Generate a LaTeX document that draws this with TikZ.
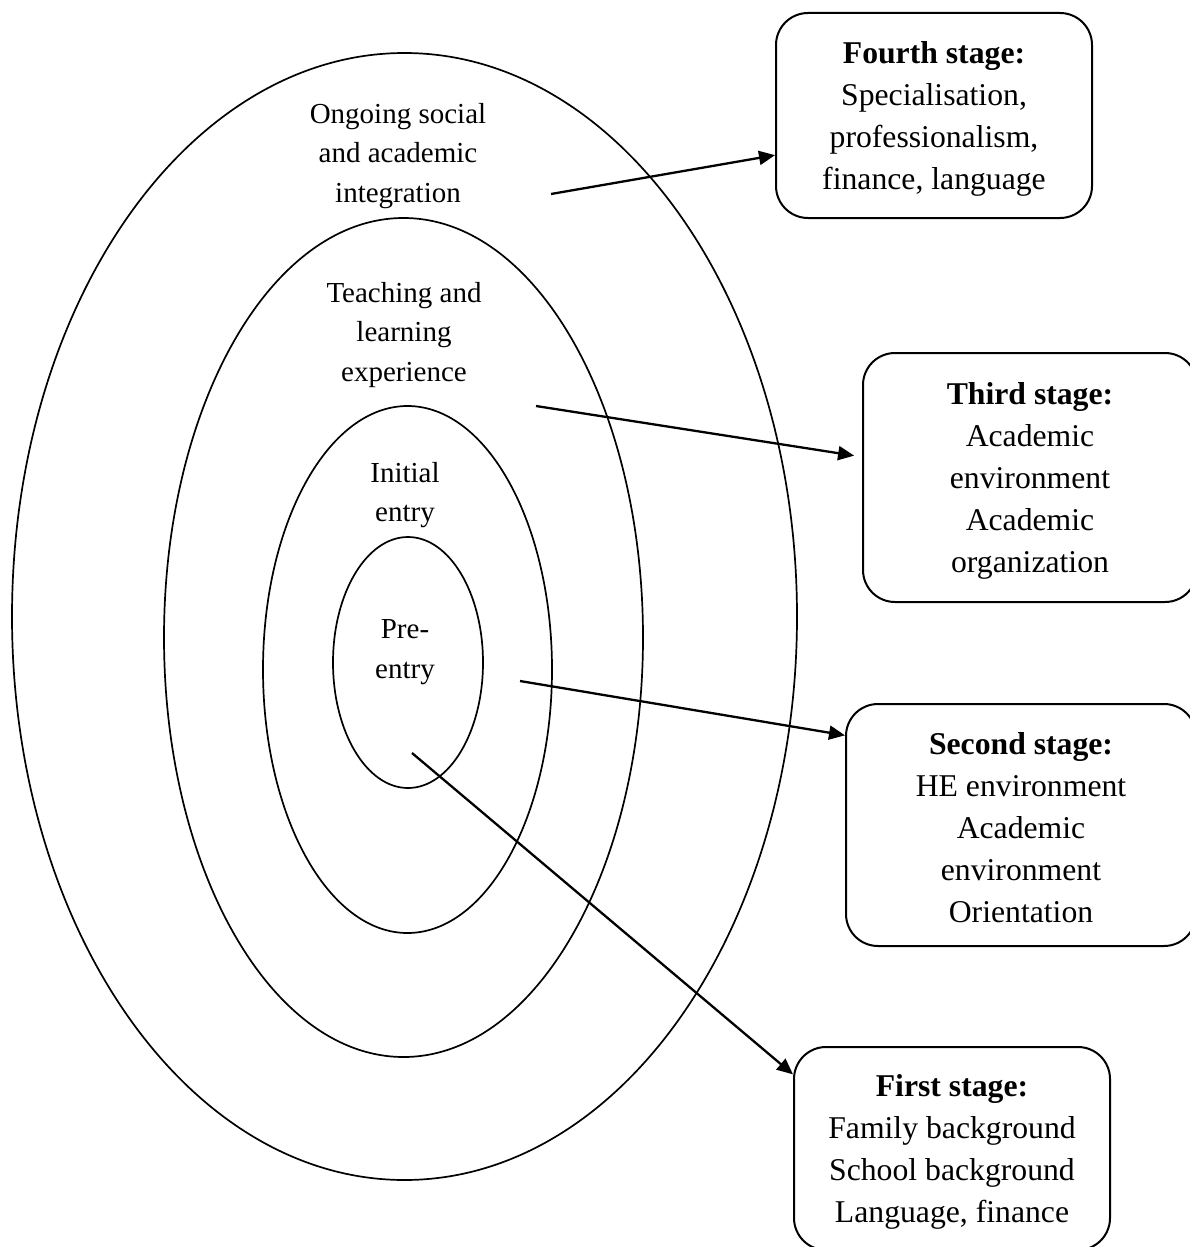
\documentclass[tikz,border=0pt]{standalone}
\usepackage{fontspec}
\setmainfont{Liberation Serif}
\usetikzlibrary{shapes.geometric,arrows.meta}

% invisible strut that lowers the text block a little inside its box
\newcommand{\boxtopgap}{\rule{0pt}{28pt}}

\tikzset{
  ring/.style={ellipse, draw, line width=1.7pt, inner sep=0pt},
  ringlabel/.style={align=center, inner sep=0pt,
    font=\fontsize{29}{39.5}\selectfont},
  stagebox/.style={draw, line width=2pt, rounded corners=32pt, align=center,
    inner sep=0pt, font=\fontsize{31.7}{42}\selectfont},
  link/.style={line width=2.3pt, -{Triangle[length=16pt, width=14pt]}}
}

\begin{document}
\begin{tikzpicture}[x=1pt, y=-1pt]
\useasboundingbox (0,0) rectangle (1190,1247);
\clip (0,0) rectangle (1190,1247);

% nested rings, outermost first
\node[ring, minimum width=785pt, minimum height=1127pt] (r4) at (404.5,616.5) {};
\node[ring, minimum width=479pt, minimum height=839pt] (r3) at (403.5,637.5) {};
\node[ring, minimum width=289pt, minimum height=527pt] (r2) at (407.5,669.5) {};
\node[ring, minimum width=150pt, minimum height=251pt] (r1) at (408,662.5) {};

% ring labels
\node[ringlabel] (l4) at (398,156) {Ongoing social\\and academic\\integration};
\node[ringlabel] (l3) at (404,335) {Teaching and\\learning\\experience};
\node[ringlabel] (l2) at (405,495) {Initial\\entry};
\node[ringlabel] (l1) at (405,652) {Pre-\\entry};

% stage boxes
\node[stagebox, minimum width=316pt, minimum height=205pt] (b4) at (934,115.5)
  {\boxtopgap\textbf{Fourth stage:}\\Specialisation,\\professionalism,\\finance, language};
\node[stagebox, minimum width=334pt, minimum height=249pt] (b3) at (1030,477.5)
  {\boxtopgap\textbf{Third stage:}\\Academic\\environment\\Academic\\organization};
\node[stagebox, minimum width=350pt, minimum height=242pt] (b2) at (1021,825)
  {\boxtopgap\textbf{Second stage:}\\HE environment\\Academic\\environment\\Orientation};
\node[stagebox, minimum width=316pt, minimum height=203pt] (b1) at (952,1148.5)
  {\boxtopgap\textbf{First stage:}\\Family background\\School background\\Language, finance};

% arrow tails inside the rings
\coordinate (s4) at (551,194);
\coordinate (s3) at (536,406);
\coordinate (s2) at (520,681);
\coordinate (s1) at (412,753);

% connectors
\draw[link] (s4) -- (b4.194);
\draw[link, shorten >=8pt] (s3) -- (b3.173);
\draw[link] (s2) -- (b2.153.6);
\draw[link] (s1) -- (b1.155);
\end{tikzpicture}
\end{document}
